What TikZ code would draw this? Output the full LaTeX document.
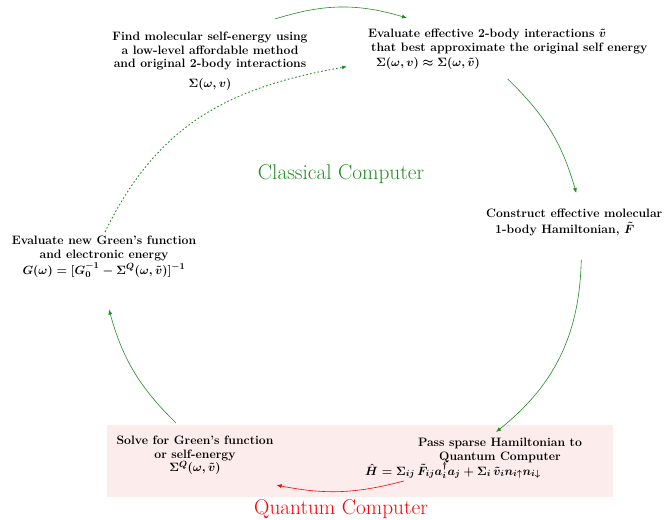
\documentclass[tikz,border=0pt]{standalone}
\usepackage{tikz}
\usetikzlibrary{arrows.meta}
\definecolor{classgreen}{RGB}{34,139,34}
\definecolor{qpink}{RGB}{253,236,236}
\tikzset{
	tasklabel/.style={font=\fontsize{12.2}{13.6}\selectfont\bfseries\boldmath, inner sep=0pt},
	bigtitle/.style={font=\fontsize{21.3}{24}\selectfont, inner sep=0pt},
	flow/.style={-{Latex[length=5pt,width=4pt]}, line width=0.6pt, color=classgreen},
	qflow/.style={flow, color=red},
	backflow/.style={flow, line width=0.9pt, dash pattern=on 1.6pt off 2.2pt}
}

\begin{document}
\begin{tikzpicture}[x=1pt,y=1pt]
		%%%%% START %%%%%
		\useasboundingbox (0, 0) rectangle (671, 519);
		
		\fill[qpink] (107, 22) rectangle (613, 94);
		
		\node[bigtitle, color=classgreen] (classical) at (341, 345) {Classical Computer};
		\node[bigtitle, color=red] (quantum) at (341, 10) {Quantum Computer};
		
		\node[tasklabel, align=center, anchor=north] (find) at (210, 487) {Find molecular self-energy using\\ a low-level affordable method\\ and original 2-body interactions\\[6pt] $\Sigma(\omega, v)$};
		\node[tasklabel, align=left, anchor=north west] (eval) at (368, 490) {Evaluate effective 2-body interactions $\tilde{v}$\\ \hspace*{3pt}that best approximate the original self energy\\[2pt] \hspace*{8pt}$\Sigma(\omega, v) \approx \Sigma(\omega, \tilde{v})$};
		\node[tasklabel, align=left, anchor=north west] (construct) at (486, 310) {Construct effective molecular\\[2pt] \hspace*{9pt}1-body Hamiltonian, $\tilde{F}$};
		\node[tasklabel, align=center, anchor=north] (gnew) at (104, 283) {Evaluate new Green's function\\ and electronic energy\\[1pt] $G(\omega) = [G_0^{-1} - \Sigma^{Q}(\omega, \tilde{v})]^{-1}$};
		\node[tasklabel, align=center, anchor=north] (solve) at (195, 83) {Solve for Green's function\\ or self-energy\\ $\Sigma^{Q}(\omega, \tilde{v})$};
		\node[tasklabel, align=center, anchor=north] (pass) at (500, 81) {Pass sparse Hamiltonian to\\ Quantum Computer};
		\node[tasklabel, anchor=base] (passeq) at (453, 44) {$\hat{H} = \Sigma_{ij}\, \tilde{F}_{ij} a_i^{\dagger} a_j + \Sigma_i\, \tilde{v}_i n_{i\uparrow} n_{i\downarrow}$};
		
		% classical loop
		\draw[flow] ([xshift=65pt, yshift=13pt]find.north) to[bend left=17] ([xshift=39pt, yshift=11pt]eval.north west);
		\draw[flow] ([yshift=-9pt]eval.south) to[bend left=15] ([xshift=2pt, yshift=16pt]construct.north);
		\draw[flow] ([xshift=7pt, yshift=-24pt]construct.south) to[bend left=25] ([xshift=-4pt, yshift=6pt]pass.north);
		\draw[qflow] ([xshift=39pt, yshift=-2pt]passeq.south west) to[bend left=13] ([xshift=3pt, yshift=-10pt]solve.south east);
		\draw[flow] ([xshift=-19pt, yshift=13pt]solve.north) to[bend left=15] ([xshift=5pt, yshift=-32pt]gnew.south);
		\draw[backflow] ([xshift=1pt, yshift=4pt]gnew.north) to[out=64, in=190, looseness=1.05] ([xshift=-21pt, yshift=-17pt]eval.west);
		
		%%%%% END %%%%%
	\end{tikzpicture}
\end{document}
